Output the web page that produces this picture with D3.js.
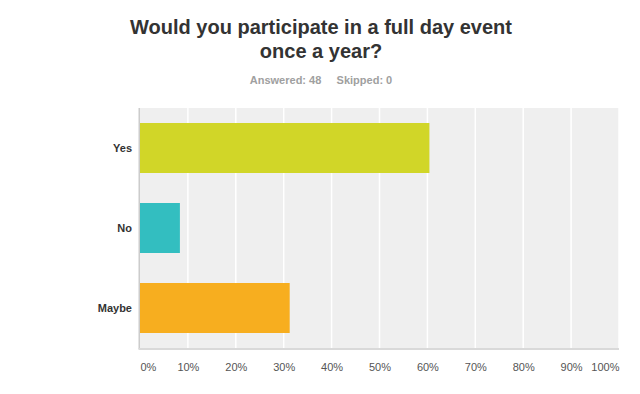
<!doctype html>
<html>
  <head>
    <meta charset="utf-8" />
    <title>Would you participate in a full day event once a year?</title>
    <script src="https://cdn.jsdelivr.net/npm/d3@7"></script>
    <style>
      html,
      body {
        margin: 0;
        background: #fff;
        overflow: hidden;
      }
      text {
        font-family: Arial, "Liberation Sans", sans-serif;
      }
    </style>
  </head>
  <body>
    <script>
      // answers and their share of respondents (29, 4 and 15 of 48)
      const answers = ["Yes", "No", "Maybe"];
      const percents = [60.42, 8.33, 31.25];
      const barColors = ["#d1d628", "#33bec0", "#f7ae1f"];
      const tickValues = [0, 10, 20, 30, 40, 50, 60, 70, 80, 90, 100];
      const titleLines = ["Would you participate in a full day event", "once a year?"];
      const answered = 48;
      const skipped = 0;

      const width = 640;
      const height = 394;
      const margin = { top: 108, right: 21, bottom: 46, left: 140 };

      const svg = d3
        .select("body")
        .append("svg")
        .attr("width", width)
        .attr("height", height);

      // title
      svg
        .append("g")
        .selectAll("text")
        .data(titleLines)
        .join("text")
        .attr("x", 321)
        .attr("y", (d, i) => 34 + i * 24)
        .attr("text-anchor", "middle")
        .attr("font-size", 20)
        .attr("font-weight", "bold")
        .attr("fill", "#333")
        .text((d) => d);

      svg
        .append("text")
        .attr("x", 321)
        .attr("y", 84)
        .attr("text-anchor", "middle")
        .attr("font-size", 11)
        .attr("font-weight", "bold")
        .attr("fill", "#a0a0a0")
        .attr("xml:space", "preserve")
        .text(`Answered: ${answered}     Skipped: ${skipped}`);

      const x = d3
        .scaleLinear()
        .domain([0, 100])
        .range([margin.left, width - margin.right]);

      const y = d3
        .scaleBand()
        .domain(answers)
        .range([margin.top, height - margin.bottom])
        .paddingInner(0.375)
        .paddingOuter(0.1875);

      // plot background
      svg
        .append("rect")
        .attr("x", x(0))
        .attr("y", margin.top)
        .attr("width", x(100) - x(0))
        .attr("height", height - margin.bottom - margin.top)
        .attr("fill", "#efefef");

      // vertical gridlines
      svg
        .append("g")
        .selectAll("line")
        .data(tickValues.slice(1))
        .join("line")
        .attr("x1", (d) => x(d))
        .attr("x2", (d) => x(d))
        .attr("y1", margin.top)
        .attr("y2", height - margin.bottom)
        .attr("stroke", "#fff")
        .attr("stroke-width", 1.5);

      // bars
      svg
        .append("g")
        .selectAll("rect")
        .data(answers)
        .join("rect")
        .attr("x", x(0))
        .attr("y", (d) => y(d))
        .attr("width", (d, i) => x(percents[i]) - x(0))
        .attr("height", y.bandwidth())
        .attr("fill", (d, i) => barColors[i]);

      // axis lines
      svg
        .append("line")
        .attr("x1", x(0) - 0.75)
        .attr("x2", x(0) - 0.75)
        .attr("y1", margin.top)
        .attr("y2", height - margin.bottom + 1)
        .attr("stroke", "#ccc")
        .attr("stroke-width", 1.5);
      svg
        .append("line")
        .attr("x1", x(0) - 1.5)
        .attr("x2", x(100))
        .attr("y1", height - margin.bottom + 1)
        .attr("y2", height - margin.bottom + 1)
        .attr("stroke", "#d9d9d9")
        .attr("stroke-width", 2);

      // y labels
      const yAxis = svg
        .append("g")
        .attr("transform", `translate(${margin.left - 8},0)`)
        .call(d3.axisLeft(y).tickSize(0).tickPadding(0));
      yAxis.select(".domain").remove();
      yAxis
        .selectAll("text")
        .attr("font-size", 11)
        .attr("font-weight", "bold")
        .attr("fill", "#333")
        .attr("font-family", null);

      // x labels
      const xAxis = svg
        .append("g")
        .attr("transform", `translate(0,${height - margin.bottom + 23})`)
        .call(
          d3
            .axisBottom(x)
            .tickValues(tickValues)
            .tickSize(0)
            .tickPadding(0)
            .tickFormat((d) => d + "%"),
        );
      xAxis.select(".domain").remove();
      xAxis
        .selectAll("text")
        .attr("font-size", 11)
        .attr("fill", "#555")
        .attr("font-family", null)
        .attr("dy", 0)
        .attr("text-anchor", (d) => (d === 0 ? "start" : d === 100 ? "end" : "middle"));
    </script>
  </body>
</html>
